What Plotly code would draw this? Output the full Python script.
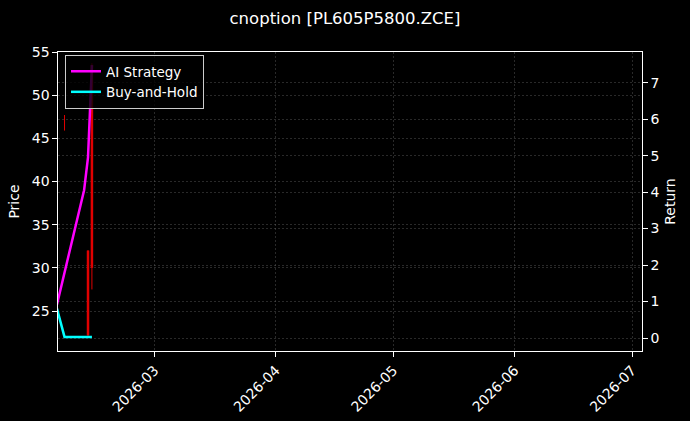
import plotly.graph_objects as go

# ---- data ----
dates = ["2026-02-04", "2026-02-05", "2026-02-06", "2026-02-09",
         "2026-02-10", "2026-02-11", "2026-02-12", "2026-02-13"]
ai_strategy = [0.89, 1.34, 1.79, 3.12, 3.55, 4.05, 4.95, 7.48]
buy_and_hold = [0.83, 0.42, 0.03, 0.03, 0.03, 0.03, 0.03, 0.03]

candle_dates = ["2026-02-06", "2026-02-12", "2026-02-13"]
c_open = [46.8, 32.0, 53.5]
c_high = [47.7, 32.05, 53.7]
c_low = [45.9, 22.1, 27.5]
c_close = [46.8, 22.2, 30.0]

title = "cnoption [PL605P5800.ZCE]"
price_ticks = [25, 30, 35, 40, 45, 50, 55]
return_ticks = [0, 1, 2, 3, 4, 5, 6, 7]

# ---- build segments ----
wx, wy, bx, by = [], [], [], []
for d, o, h, l, c in zip(candle_dates, c_open, c_high, c_low, c_close):
    wx += [d, d, None]
    wy += [l, h, None]
    bx += [d, d, None]
    by += [o, c, None]

FONT = "DejaVu Sans"
fig = go.Figure()
fig.add_trace(go.Scatter(x=wx, y=wy, mode="lines", line=dict(color="#e00000", width=1),
                         showlegend=False, hoverinfo="skip", yaxis="y"))
fig.add_trace(go.Scatter(x=bx, y=by, mode="lines", line=dict(color="#e00000", width=2.5),
                         showlegend=False, hoverinfo="skip", yaxis="y"))
fig.add_trace(go.Scatter(x=dates, y=ai_strategy, mode="lines", name="AI Strategy",
                         line=dict(color="#ff00ff", width=2.5), yaxis="y2"))
fig.add_trace(go.Scatter(x=dates, y=buy_and_hold, mode="lines", name="Buy-and-Hold",
                         line=dict(color="#00ffff", width=2.5), yaxis="y2"))

gridc = "rgba(128,128,128,0.32)"
gdash = "2px,2px"
fig.update_layout(
    width=690, height=421,
    paper_bgcolor="black", plot_bgcolor="black",
    font=dict(family=FONT, color="white", size=14),
    margin=dict(l=57.5, r=48, t=51.7, b=70, autoexpand=False),
    title=dict(text=title, x=0.5, xanchor="center", y=0.957, yanchor="middle",
               font=dict(size=16.5, color="white", family=FONT)),
    xaxis=dict(type="date", range=["2026-02-04 08:00", "2026-07-03 13:00"],
               tick0="2026-01-01", dtick="M1", tickformat="%Y-%m", tickangle=-45,
               showline=True, linecolor="white", linewidth=1.2, mirror=True,
               ticks="outside", ticklen=4.5, tickcolor="white",
               showgrid=True, gridcolor=gridc, griddash=gdash, gridwidth=0.6,
               zeroline=False, tickfont=dict(size=14)),
    yaxis=dict(range=[20.37, 55], tickvals=price_ticks,
               title=dict(text="Price", standoff=8, font=dict(size=14)),
               showline=True, linecolor="white", linewidth=1.2, mirror=True,
               ticks="outside", ticklen=4.5, tickcolor="white",
               showgrid=True, gridcolor=gridc, griddash=gdash, gridwidth=0.6,
               zeroline=False, tickfont=dict(size=14)),
    yaxis2=dict(range=[-0.356, 7.84], tickvals=return_ticks, overlaying="y", side="right",
                title=dict(text="Return", standoff=6, font=dict(size=14)),
                showline=True, linecolor="white", linewidth=1.2,
                ticks="outside", ticklen=4.5, tickcolor="white",
                showgrid=True, gridcolor=gridc, griddash=gdash, gridwidth=0.6,
                zeroline=False, tickfont=dict(size=14)),
    legend=dict(x=0.012, y=0.99, xanchor="left", yanchor="top",
                bgcolor="rgba(0,0,0,0.8)", bordercolor="#cccccc", borderwidth=1,
                font=dict(size=13.5, color="white"), tracegroupgap=0,
                itemwidth=30),
    showlegend=True,
)

fig.write_html("out.html", config={"displayModeBar": False},
               post_script="document.body.style.margin='0';document.body.style.background='black';")
